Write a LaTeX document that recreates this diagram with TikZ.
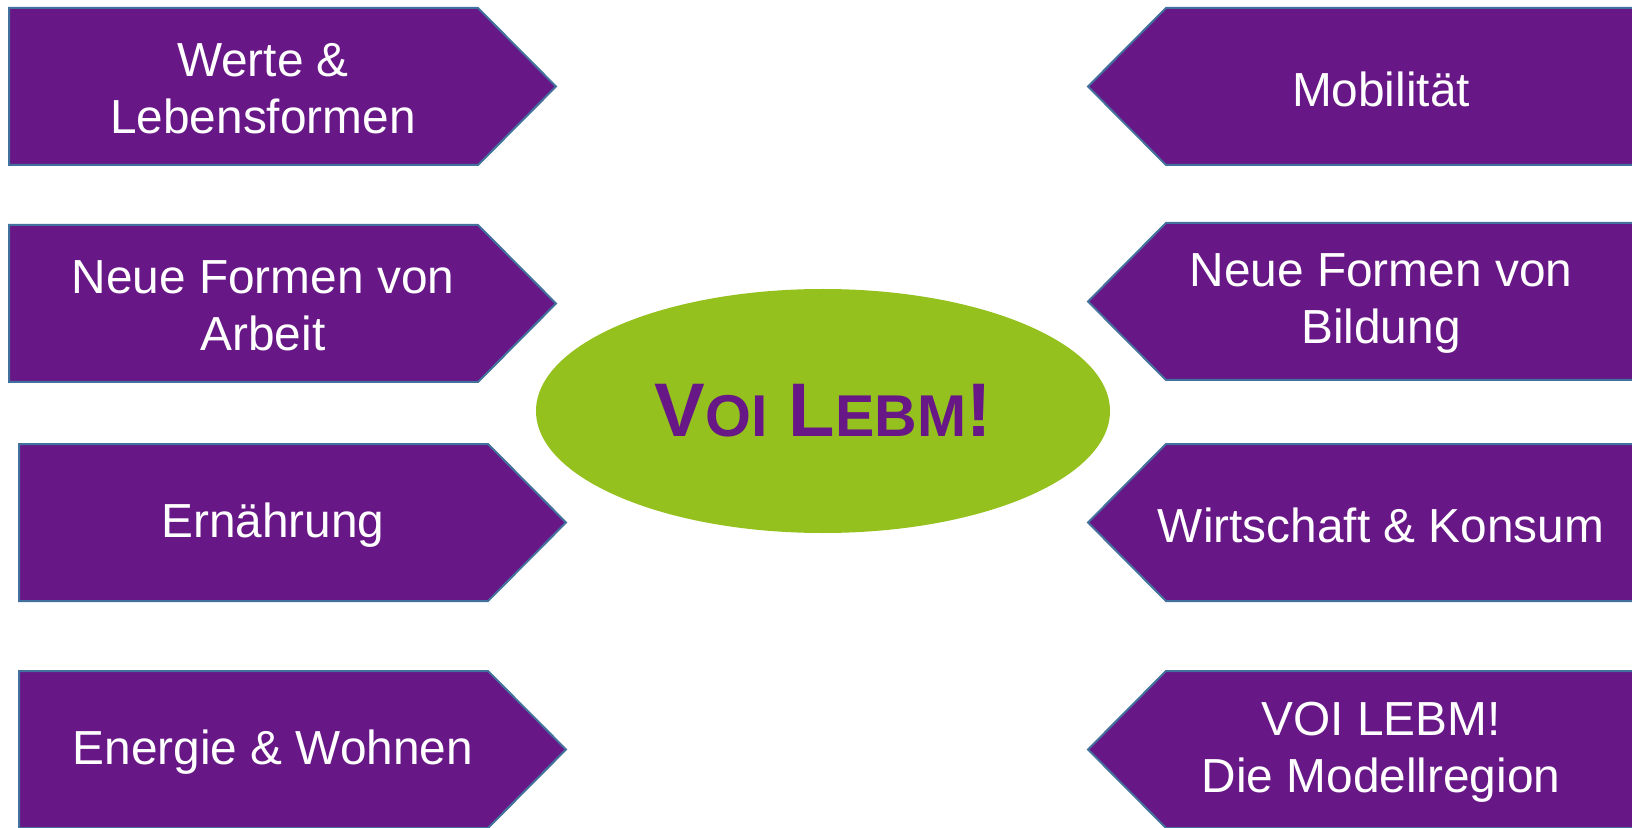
\documentclass[tikz,border=0pt]{standalone}
\usepackage{fontspec}
\setmainfont{Liberation Sans}
\usetikzlibrary{shapes.geometric}
\definecolor{vpurple}{HTML}{681787}
\definecolor{vgreen}{HTML}{95C11F}
\definecolor{vedge}{HTML}{41719C}
\tikzset{
  pent/.style={fill=vpurple, draw=vedge, line width=1pt, line join=miter},
  penttext/.style={text=white, align=center, inner sep=0pt,
    font=\fontsize{23.9}{28.5}\selectfont},
}
\newcommand\LeftPent[4]{% x-left, y-top, name, text
  \path[pent] (#1,#2) -- ++(469,0) -- ++(78,78.5) -- ++(-78,78.5) -- ++(-469,0) -- cycle;
  \node[penttext] (#3) at ({#1+254},{#2+81}) {#4};
}
\newcommand\RightPent[4]{% x-tip, y-top, name, text
  \path[pent] (#1,{#2+78.5}) -- ++(78,-78.5) -- (1645,#2) -- (1645,{#2+157}) -- ({#1+78},{#2+157}) -- cycle;
  \node[penttext] (#3) at ({#1+293},{#2+81}) {#4};
}
\begin{document}
\begin{tikzpicture}[x=0.5pt,y=-0.5pt]
\useasboundingbox[fill=white] (0,0) rectangle (1632,828);
\LeftPent{9}{8}{werte}{Werte \&\\Lebensformen}
\LeftPent{9}{225}{arbeit}{Neue Formen von\\Arbeit}
\LeftPent{19}{444}{ernaehrung}{Ernährung}
\LeftPent{19}{671}{energie}{Energie \& Wohnen}
\RightPent{1088}{8}{mobil}{Mobilität}
\RightPent{1088}{223}{bildung}{Neue Formen von\\Bildung}
\RightPent{1088}{444}{wirtschaft}{Wirtschaft \& Konsum}
\RightPent{1088}{671}{modell}{VOI LEBM!\\Die Modellregion}
\node[ellipse, fill=vgreen, minimum width=287pt, minimum height=122pt, inner sep=0pt,
  text=vpurple, font=\bfseries\fontsize{38}{46}\selectfont] (center) at (823,411)
  {V{\fontsize{29.5}{34}\selectfont OI} L{\fontsize{29.5}{34}\selectfont EBM}!};
\end{tikzpicture}
\end{document}
